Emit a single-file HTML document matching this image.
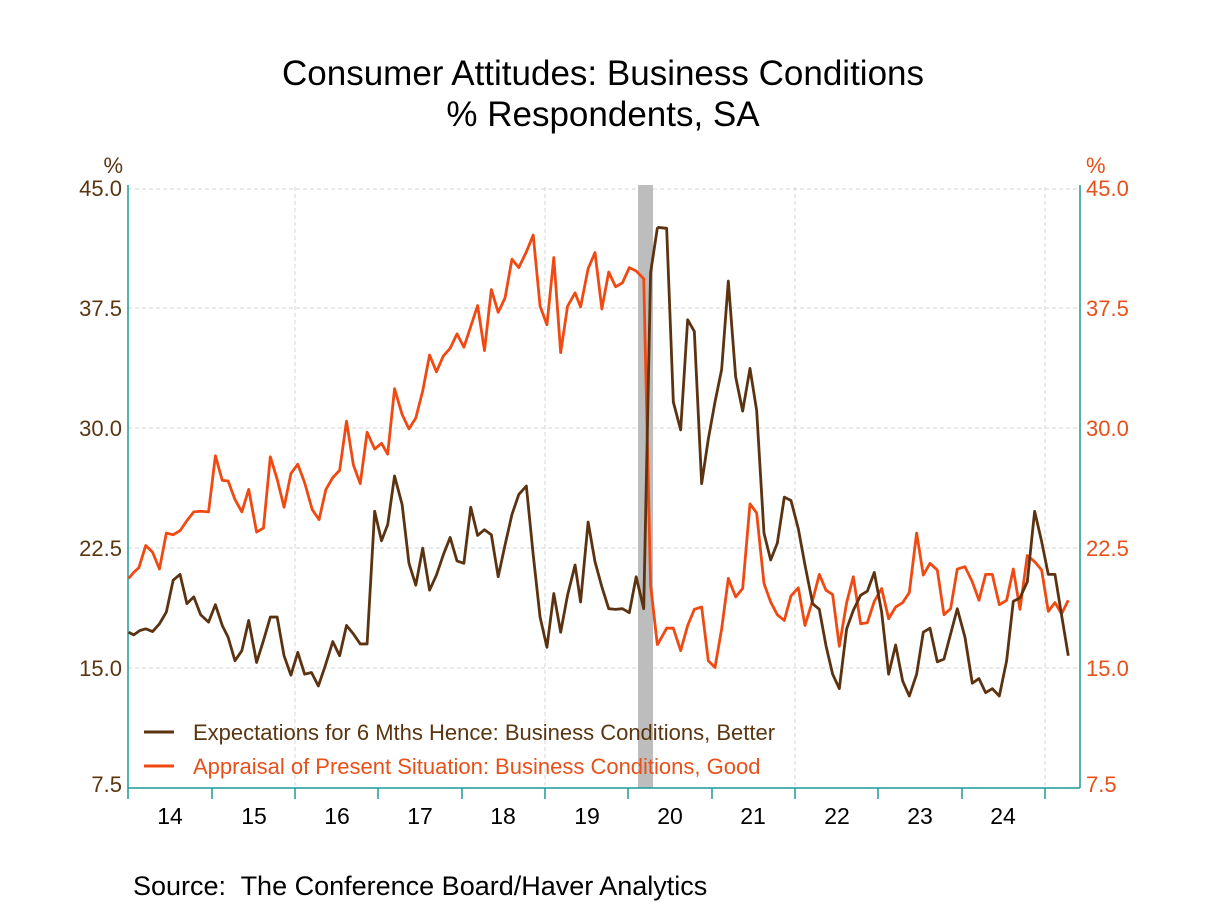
<!DOCTYPE html>
<html><head><meta charset="utf-8"><style>
body{margin:0;background:#fff;}
svg text{font-family:"Liberation Sans",Arial,sans-serif;}
</style></head><body>
<svg width="1208" height="906" viewBox="0 0 1208 906" xmlns="http://www.w3.org/2000/svg">
<rect width="1208" height="906" fill="#fff"/>
<text x="603" y="85" font-size="35" text-anchor="middle" fill="#000">Consumer Attitudes: Business Conditions</text>
<text x="603" y="126" font-size="35" text-anchor="middle" fill="#000">% Respondents, SA</text>
<g stroke="#d4d4d4" stroke-width="1" stroke-dasharray="4,3">
<line x1="128" x2="1080" y1="189" y2="189"/>
<line x1="128" x2="1080" y1="308" y2="308"/>
<line x1="128" x2="1080" y1="428" y2="428"/>
<line x1="128" x2="1080" y1="548" y2="548"/>
<line x1="128" x2="1080" y1="668" y2="668"/>
<line x1="295" x2="295" y1="187" y2="788"/>
<line x1="545" x2="545" y1="187" y2="788"/>
<line x1="795" x2="795" y1="187" y2="788"/>
<line x1="1045" x2="1045" y1="187" y2="788"/>
</g>
<rect x="638" y="185" width="15" height="603" fill="#bdbdbd"/>
<g stroke="#1a9a9a" stroke-width="1.5">
<line x1="128" x2="128" y1="185" y2="799"/>
<line x1="1080" x2="1080" y1="185" y2="788"/>
<line x1="128" x2="1080" y1="788" y2="788"/>
<line x1="212" x2="212" y1="788" y2="799"/><line x1="295" x2="295" y1="788" y2="799"/>
<line x1="378" x2="378" y1="788" y2="799"/><line x1="462" x2="462" y1="788" y2="799"/>
<line x1="545" x2="545" y1="788" y2="799"/><line x1="628" x2="628" y1="788" y2="799"/>
<line x1="712" x2="712" y1="788" y2="799"/><line x1="795" x2="795" y1="788" y2="799"/>
<line x1="878" x2="878" y1="788" y2="799"/><line x1="962" x2="962" y1="788" y2="799"/>
<line x1="1045" x2="1045" y1="788" y2="799"/>
</g>
<g font-size="22" fill="#5a3510" text-anchor="end">
<text x="122" y="196">45.0</text><text x="122" y="316">37.5</text><text x="122" y="436">30.0</text><text x="122" y="556">22.5</text><text x="122" y="676">15.0</text><text x="122" y="792">7.5</text>
<text x="123" y="173">%</text>
</g>
<g font-size="22" fill="#e8501a">
<text x="1086" y="196">45.0</text><text x="1086" y="316">37.5</text><text x="1086" y="436">30.0</text><text x="1086" y="556">22.5</text><text x="1086" y="676">15.0</text><text x="1086" y="792">7.5</text>
<text x="1086" y="173">%</text>
</g>
<g font-size="23" fill="#000" text-anchor="middle">
<text x="170" y="824">14</text><text x="254" y="824">15</text><text x="337" y="824">16</text><text x="420" y="824">17</text><text x="503" y="824">18</text><text x="587" y="824">19</text><text x="670" y="824">20</text><text x="753" y="824">21</text><text x="837" y="824">22</text><text x="920" y="824">23</text><text x="1003" y="824">24</text>
</g>
<g fill="none" stroke-linejoin="round">
<g transform="translate(120,178.6) scale(0.3432,0.336)">
<polyline stroke="#f04a12" style="stroke-width:2.8px" vector-effect="non-scaling-stroke" points="25,1190 40,1172 55,1158 75,1092 95,1112 115,1162 135,1055 155,1060 175,1048 195,1018 215,992 235,990 258,992 278,825 298,898 315,900 335,955 355,992 375,925 398,1052 418,1040 438,828 458,895 478,978 498,878 518,850 538,905 560,985 580,1015 600,925 620,890 640,868 660,722 680,852 700,908 720,755 742,805 762,788 780,820 800,625 822,702 842,745 862,712 882,632 902,525 922,575 942,528 962,505 982,462 1002,502 1022,440 1042,378 1062,512 1082,330 1102,398 1122,355 1142,240 1162,265 1184,218 1204,168 1224,380 1244,435 1264,235 1284,518 1304,380 1326,340 1342,382 1364,268 1384,220 1404,388 1424,278 1444,322 1464,310 1484,265 1504,275 1526,298 1546,1210 1566,1390"/>
<polyline stroke="#5c3311" style="stroke-width:2.8px" vector-effect="non-scaling-stroke" points="25,1350 40,1358 58,1345 75,1340 95,1348 115,1325 135,1290 155,1195 175,1178 195,1265 215,1245 235,1298 258,1320 278,1268 298,1330 315,1365 335,1435 355,1405 375,1315 398,1440 418,1375 438,1305 458,1305 478,1420 498,1478 518,1410 538,1475 558,1470 578,1510 598,1450 620,1378 640,1420 660,1330 680,1355 700,1385 720,1385 742,990 762,1078 780,1030 800,885 822,970 842,1145 862,1210 882,1100 902,1225 922,1180 942,1120 962,1068 982,1138 1002,1145 1022,978 1042,1062 1062,1045 1082,1060 1102,1185 1122,1090 1142,1000 1162,940 1184,915 1204,1120 1224,1305 1244,1395 1264,1235 1284,1350 1304,1240 1326,1150 1342,1260 1364,1022 1384,1140 1404,1215 1424,1280 1444,1282 1464,1280 1484,1292 1504,1185 1526,1280 1546,280 1566,145"/>
</g>
<g transform="translate(620,178.6) scale(0.3333,0.336)">
<polyline stroke="#f04a12" style="stroke-width:2.8px" vector-effect="non-scaling-stroke" points="112,1388 140,1338 160,1338 182,1405 203,1330 223,1282 245,1275 265,1435 285,1455 305,1340 325,1190 347,1245 368,1220 390,968 410,995 432,1205 452,1260 472,1298 493,1315 513,1242 535,1218 555,1330 578,1255 598,1178 618,1225 638,1238 658,1392 680,1262 700,1185 722,1325 742,1322 763,1258 785,1220 806,1310 827,1275 848,1262 868,1232 890,1055 910,1180 930,1145 952,1165 972,1298 992,1280 1012,1162 1035,1155 1057,1200 1077,1255 1097,1178 1117,1178 1138,1268 1160,1255 1180,1162 1200,1282 1222,1122 1244,1140 1265,1165 1285,1288 1305,1262 1325,1295 1345,1255"/>
<polyline stroke="#5c3311" style="stroke-width:2.8px" vector-effect="non-scaling-stroke" points="112,145 140,148 160,665 182,748 203,420 223,455 245,908 265,775 285,665 305,568 325,305 347,590 368,692 390,565 410,690 432,1055 452,1135 472,1085 493,948 513,958 535,1042 555,1150 578,1265 598,1282 618,1390 638,1475 658,1518 680,1340 700,1285 722,1240 742,1228 763,1172 785,1290 806,1475 827,1388 848,1495 868,1540 890,1475 910,1350 930,1338 952,1438 972,1430 992,1355 1012,1280 1035,1365 1057,1502 1077,1488 1097,1530 1117,1518 1138,1540 1160,1435 1180,1258 1200,1248 1222,1200 1244,990 1265,1080 1285,1178 1305,1178 1325,1300 1345,1420"/>
</g>
</g>
<line x1="144" x2="174" y1="732" y2="732" stroke="#5c3311" stroke-width="3"/>
<line x1="144" x2="174" y1="766" y2="766" stroke="#f04a12" stroke-width="3"/>
<text x="193" y="740" font-size="22" fill="#5a3510">Expectations for 6 Mths Hence: Business Conditions, Better</text>
<text x="193" y="774" font-size="22" fill="#e8501a">Appraisal of Present Situation: Business Conditions, Good</text>
<text x="133" y="895" font-size="27" fill="#000">Source:&#160; The Conference Board/Haver Analytics</text>
</svg>
</body></html>
